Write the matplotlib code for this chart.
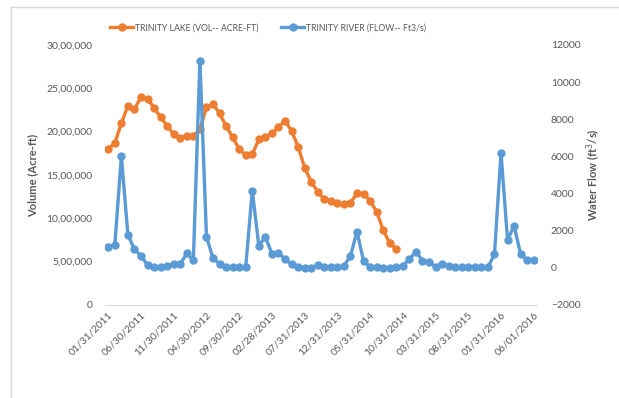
import numpy as np
import matplotlib
matplotlib.use("Agg")
import matplotlib.pyplot as plt
from matplotlib.lines import Line2D
from matplotlib.ticker import FuncFormatter

# ------------------------------------------------------------
# Monthly data, Jan 2011 .. Jun 2016
# ------------------------------------------------------------
tick_labels = [
    "01/31/2011", "06/30/2011", "11/30/2011", "04/30/2012", "09/30/2012",
    "02/28/2013", "07/31/2013", "12/31/2013", "05/31/2014", "10/31/2014",
    "03/31/2015", "08/31/2015", "01/31/2016", "06/01/2016",
]

lake_volume = [
    1800000, 1870000, 2095000, 2300000, 2260000, 2400000, 2377000, 2277000,
    2165000, 2065000, 1970000, 1925000, 1953000, 1950000, 2027000, 2280000,
    2320000, 2210000, 2065000, 1935000, 1800000, 1727000, 1740000, 1910000,
    1935000, 1980000, 2050000, 2127000, 2010000, 1827000, 1585000, 1423000,
    1307000, 1220000, 1203000, 1180000, 1162000, 1180000, 1289000, 1285000,
    1203000, 1077000, 865000, 712000, 646000,
]

river_flow = [
    1140, 1230, 6020, 1770, 1000, 640, 150, 60, 30, 110,
    210, 210, 780, 420, 11160, 1680, 520, 210, 60, 20,
    20, 60, 4160, 1180, 1680, 750, 820, 460, 210, 60,
    0, 0, 150, 30, 30, 30, 110, 640, 1950, 370,
    60, 30, 0, 0, 20, 110, 460, 870, 390, 330,
    60, 210, 110, 30, 20, 20, 20, 20, 30, 730,
    6200, 1500, 2270, 730, 420, 420,
]

ORANGE = "#ED7D31"
BLUE = "#5B9BD5"
TEXT = "#595959"
LINE = "#D9D9D9"

plt.rcParams["font.family"] = ["Lato", "DejaVu Sans"]


def indian_fmt(v, pos=None):
    # 3000000 -> 30,00,000
    n = int(round(v))
    if n == 0:
        return "0"
    s = str(abs(n))
    last3, rest = s[-3:], s[:-3]
    parts = []
    while len(rest) > 2:
        parts.insert(0, rest[-2:])
        rest = rest[:-2]
    if rest:
        parts.insert(0, rest)
    return ",".join(parts + [last3])


n = len(river_flow)
x = np.arange(n)
vol = np.full(n, np.nan)
vol[:len(lake_volume)] = lake_volume

fig = plt.figure(figsize=(6.19, 3.98), dpi=100, facecolor="white")
ax = fig.add_axes([105 / 619, 1 - 305 / 398, 432 / 619, 260 / 398])
ax2 = ax.twinx()

ax.plot(x, vol, color=ORANGE, lw=2.4, marker="o", ms=5, zorder=3)
ax2.plot(x, river_flow, color=BLUE, lw=2.4, marker="o", ms=5, zorder=3)

ax.set_xlim(-0.5, n - 0.5)
ax.set_ylim(0, 3000000)
ax.set_yticks(np.arange(0, 3000001, 500000))
ax.yaxis.set_major_formatter(FuncFormatter(indian_fmt))
ax2.set_ylim(-2000, 12000)
ax2.set_yticks(np.arange(-2000, 12001, 2000))

ax.set_xticks(np.arange(0, n, 5))
ax.set_xticklabels(tick_labels, rotation=45, ha="right", va="top",
                   rotation_mode="anchor")

for a in (ax, ax2):
    for sp in a.spines.values():
        sp.set_visible(False)
    a.tick_params(length=0, colors=TEXT, labelsize=7.5)
ax.spines["bottom"].set_visible(True)
ax.spines["bottom"].set_color(LINE)
ax.tick_params(axis="y", pad=9)
ax.tick_params(axis="x", pad=4)
ax2.tick_params(axis="y", pad=10)

ax.set_ylabel("Volume (Acre-ft)", fontsize=8, fontweight="bold",
              color=TEXT, labelpad=6)
ax2.set_ylabel("Water Flow (ft$^3$/s)", fontsize=8, fontweight="bold",
               color=TEXT, labelpad=3.5)

handles = [
    Line2D([], [], color=ORANGE, lw=2.4, marker="o", ms=5),
    Line2D([], [], color=BLUE, lw=2.4, marker="o", ms=5),
]
leg = fig.legend(handles, ["TRINITY LAKE (VOL-- ACRE-FT)",
                           "TRINITY RIVER (FLOW-- Ft3/s)"],
                 loc="center", bbox_to_anchor=(268 / 619, 1 - 28 / 398),
                 ncol=2, frameon=False, fontsize=6.3, handlelength=2.6,
                 columnspacing=2.6, handletextpad=0.2)
for t in leg.get_texts():
    t.set_color(TEXT)

# chart frame (left and top edges)
fig.add_artist(Line2D([11 / 619, 11 / 619], [0, 1 - 7 / 398],
                      transform=fig.transFigure, color=LINE, lw=1))
fig.add_artist(Line2D([11 / 619, 1], [1 - 7 / 398, 1 - 7 / 398],
                      transform=fig.transFigure, color=LINE, lw=1))

fig.savefig("out.png", dpi=100, facecolor="white")
